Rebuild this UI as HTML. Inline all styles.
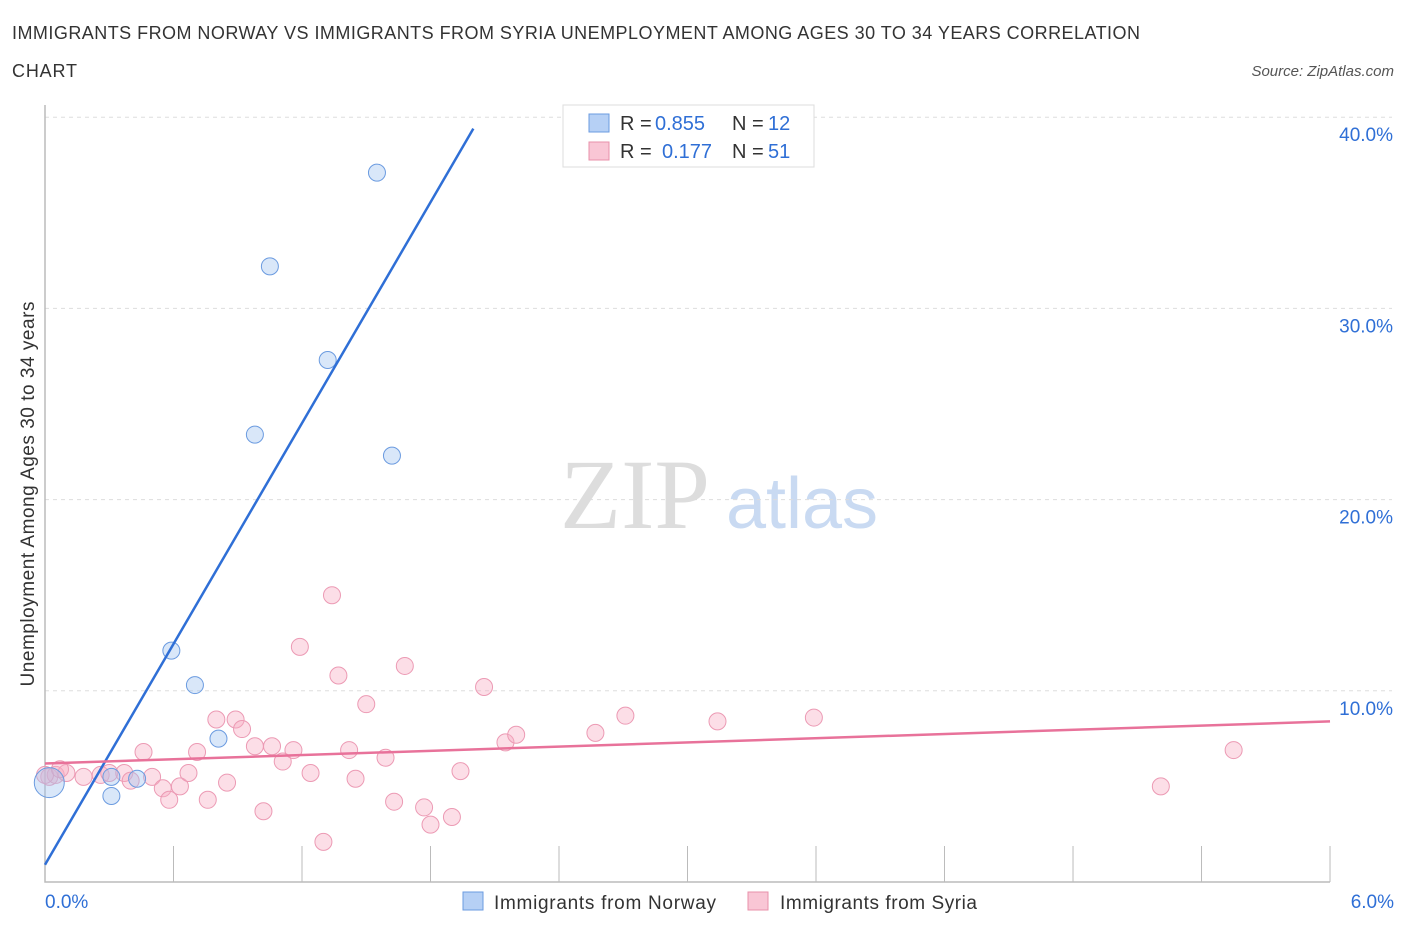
<!DOCTYPE html>
<html><head><meta charset="utf-8"><style>
body{margin:0;background:#fff;font-family:"Liberation Sans",sans-serif;}
</style></head><body>
<svg id="chart" width="1406" height="930" xmlns="http://www.w3.org/2000/svg" font-family="Liberation Sans, sans-serif">
<text x="12" y="39" font-size="18" fill="#333" textLength="1128">IMMIGRANTS FROM NORWAY VS IMMIGRANTS FROM SYRIA UNEMPLOYMENT AMONG AGES 30 TO 34 YEARS CORRELATION</text>
<text x="12" y="77" font-size="18" fill="#333" textLength="65">CHART</text>
<text x="1394" y="76" font-size="15" fill="#555" font-style="italic" text-anchor="end">Source: ZipAtlas.com</text>
<text x="635" y="528" font-size="100" fill="#ddd" style="font-family:'Liberation Serif',serif" text-anchor="middle">ZIP</text>
<text x="802" y="528" font-size="72" fill="#c9daf2" text-anchor="middle">atlas</text>
<text transform="translate(34,494) rotate(-90)" font-size="19" fill="#333" text-anchor="middle" textLength="385">Unemployment Among Ages 30 to 34 years</text>
<g id="grid"></g><g id="marks"></g>
<g>
<rect x="563" y="105" width="251" height="62" fill="#fff" stroke="#ddd"/>
<rect x="589" y="114" width="20" height="18" fill="#b6d0f5" stroke="#6b9be0"/>
<text x="620" y="130" font-size="20" fill="#333">R =</text><text x="655" y="130" font-size="20" fill="#2f6fd6">0.855</text>
<text x="732" y="130" font-size="20" fill="#333">N =</text><text x="768" y="130" font-size="20" fill="#2f6fd6">12</text>
<rect x="589" y="142" width="20" height="18" fill="#f9c6d5" stroke="#e890aa"/>
<text x="620" y="158" font-size="20" fill="#333">R =</text><text x="662" y="158" font-size="20" fill="#2f6fd6">0.177</text>
<text x="732" y="158" font-size="20" fill="#333">N =</text><text x="768" y="158" font-size="20" fill="#2f6fd6">51</text>
</g>
<g>
<rect x="463" y="892" width="20" height="18" fill="#b6d0f5" stroke="#6b9be0"/>
<text x="494" y="909" font-size="19" fill="#333" textLength="222">Immigrants from Norway</text>
<rect x="748" y="892" width="20" height="18" fill="#f9c6d5" stroke="#e890aa"/>
<text x="780" y="909" font-size="19" fill="#333" textLength="197">Immigrants from Syria</text>
</g>
</svg>
<script>
const yTicks=[10,20,30,40];
const xTickLabels=["0.0%","6.0%"];
const norwayX=[0.02,0.31,0.31,0.43,0.59,0.70,0.81,0.98,1.05,1.32,1.55,1.62];
const norwayY=[5.2,5.5,4.5,5.4,12.1,10.3,7.5,23.4,32.2,27.3,37.1,22.3];
const syriaX=[0.02,0.05,0.10,0.18,0.26,0.30,0.37,0.46,0.50,0.55,0.58,0.63,0.67,0.71,0.76,0.80,0.85,0.89,0.92,0.98,1.02,1.06,1.11,1.16,1.19,1.24,1.30,1.34,1.37,1.42,1.45,1.50,1.59,1.63,1.68,1.77,1.80,1.90,1.94,2.05,2.15,2.20,2.57,2.71,3.14,3.59,5.21,5.55,0.0,0.07,0.40];
const syriaY=[5.5,5.6,5.7,5.5,5.6,5.7,5.7,6.8,5.5,4.9,4.3,5.0,5.7,6.8,4.3,8.5,5.2,8.5,8.0,7.1,3.7,7.1,6.3,6.9,12.3,5.7,2.1,15.0,10.8,6.9,5.4,9.3,6.5,4.2,11.3,3.9,3.0,3.4,5.8,10.2,7.3,7.7,7.8,8.7,8.4,8.6,5.0,6.9,5.6,5.9,5.3];
const norwayLine=[[0,0.9],[2.0,39.4]];
const syriaLine=[[0,6.2],[6.0,8.4]];
const X=v=>45+v*214.17, Y=v=>882-v*19.12;
const NS="http://www.w3.org/2000/svg";
const grid=document.getElementById('grid'), marks=document.getElementById('marks');
function mk(tag,at,parent){const e=document.createElementNS(NS,tag);for(const k in at)e.setAttribute(k,at[k]);parent.appendChild(e);return e;}
yTicks.forEach(t=>{
 const l=mk('line',{x1:45,x2:1392,y1:Y(t),y2:Y(t),stroke:'#ddd','stroke-dasharray':'4,4'},grid);
 
 
 const tx=mk('text',{x:1393,y:Y(t)+24,'font-size':19,fill:'#2f6fd6','text-anchor':'end'},grid);
 tx.textContent=t.toFixed(1)+'%';
 
 
});
const ax=mk('path',{d:'M45,105 V882 H1330',fill:'none',stroke:'#bbb','stroke-width':1.5},grid);


for(let i=1;i<=10;i++){const t=mk('line',{x1:X(i*0.6),x2:X(i*0.6),y1:846,y2:882,stroke:'#bbb'},grid);
 
 }
[[0,'start',45],[6,'end',1394]].forEach((d,i)=>{const t=mk('text',{x:d[2],y:908,'font-size':19,fill:'#2f6fd6','text-anchor':d[1]},grid);t.textContent=xTickLabels[i];
 
 });
syriaX.forEach((x,i)=>{const c=mk('circle',{cx:X(x),cy:Y(syriaY[i]),r:8.5,fill:'rgba(247,172,196,0.4)',stroke:'#ec9ab4','stroke-width':1},marks);
 
 });
norwayX.forEach((x,i)=>{const c=mk('circle',{cx:X(x),cy:Y(norwayY[i]),r:i==0?15:8.5,fill:'rgba(160,195,240,0.4)',stroke:'#6b9be0','stroke-width':1},marks);
 
 });
const l1=mk('line',{x1:X(norwayLine[0][0]),y1:Y(norwayLine[0][1]),x2:X(norwayLine[1][0]),y2:Y(norwayLine[1][1]),stroke:'#2f6fd6','stroke-width':2.5},marks);


const l2=mk('line',{x1:X(syriaLine[0][0]),y1:Y(syriaLine[0][1]),x2:X(syriaLine[1][0]),y2:Y(syriaLine[1][1]),stroke:'#e8729a','stroke-width':2.5},marks);


</script>
</body></html>
